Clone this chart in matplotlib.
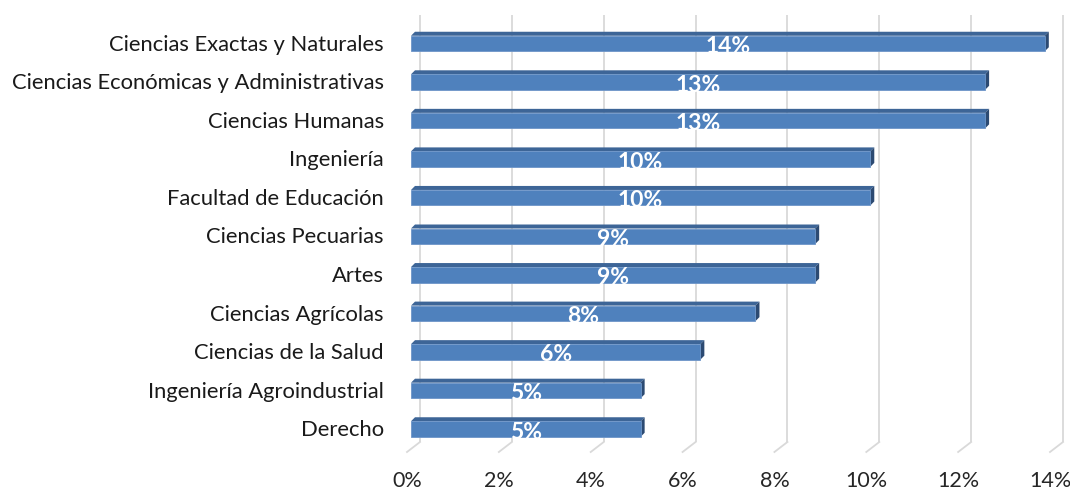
import numpy as np
import matplotlib
matplotlib.use("Agg")
import matplotlib.pyplot as plt
from matplotlib.patches import Polygon, Rectangle

# datos (de abajo hacia arriba)
facultades = [
    "Derecho",
    "Ingeniería Agroindustrial",
    "Ciencias de la Salud",
    "Ciencias Agrícolas",
    "Artes",
    "Ciencias Pecuarias",
    "Facultad de Educación",
    "Ingeniería",
    "Ciencias Humanas",
    "Ciencias Económicas y Administrativas",
    "Ciencias Exactas y Naturales",
]
porcentajes = [5.0, 5.0, 6.3, 7.5, 8.8, 8.8, 10.0, 10.0, 12.5, 12.5, 13.8]
ticks_x = [0, 2, 4, 6, 8, 10, 12, 14]

plt.rcParams['font.family'] = ['Lato', 'DejaVu Sans']

W, H = 1070, 492
fig = plt.figure(figsize=(W / 100, H / 100), dpi=100)

# geometria en pixeles de la imagen
px0, px14 = 407, 1050          # piso frontal 0% y 14%
py_bot, py_top = 452, 15
row0, row10 = 429, 43.5
ppx = (px14 - px0) / 14.0
ppy = (row0 - row10) / 10.0

ax = fig.add_axes([px0 / W, (H - py_bot) / H, (px14 - px0) / W, (py_bot - py_top) / H])
ax.set_xlim(0, 14)
ax.set_ylim(-(py_bot - row0) / ppy, 10 + (row10 - py_top) / ppy)
ax.axis('off')

# rejilla (pared trasera + piso)
gdx, gdy = 13 / ppx, 10 / ppy
y_wall = -(442 - row0) / ppy
y_floor = -(py_bot - row0) / ppy
y_topg = 10 + (row10 - py_top) / ppy
for t in ticks_x:
    ax.plot([t + gdx, t + gdx], [y_wall, y_topg], color='#d9d9d9', lw=1.3, zorder=1,
            solid_capstyle='butt', clip_on=False)
    ax.plot([t, t + gdx], [y_floor, y_wall], color='#d9d9d9', lw=1.3, zorder=1, clip_on=False)
    ax.text(t, y_floor - 29 / ppy, f"{t}%", ha='center', va='center', fontsize=15.5,
            color='#262626')

# barras con efecto 3D
off = 4 / ppx
bh = 15.5 / ppy
ddx, ddy = 4 / ppx, 4 / ppy
for i, v in enumerate(porcentajes):
    yb, yt = i - bh / 2, i + bh / 2
    x0, x1 = off, off + v
    ax.add_patch(Polygon([(x0, yt), (x0 + ddx, yt + ddy), (x1 + ddx, yt + ddy), (x1, yt)],
                         closed=True, facecolor='#3d6597', edgecolor='none', zorder=3))
    ax.add_patch(Polygon([(x1, yb), (x1, yt), (x1 + ddx, yt + ddy), (x1 + ddx, yb + ddy)],
                         closed=True, facecolor='#2c4a72', edgecolor='none', zorder=3))
    ax.add_patch(Rectangle((x0, yb), v, bh, facecolor='#4f81bd', edgecolor='#6d95c8',
                           lw=0.6, zorder=4))
    ax.text(x0 + v / 2, i - 0.08, f"{int(v + 0.5):d}%", ha='center', va='center',
            fontsize=16.5, fontweight='bold', color='white', zorder=5)
    ax.text(-23 / ppx, i - 0.03, facultades[i], ha='right', va='center', fontsize=15.8,
            color='#1a1a1a')

fig.savefig("out.png", dpi=100)
